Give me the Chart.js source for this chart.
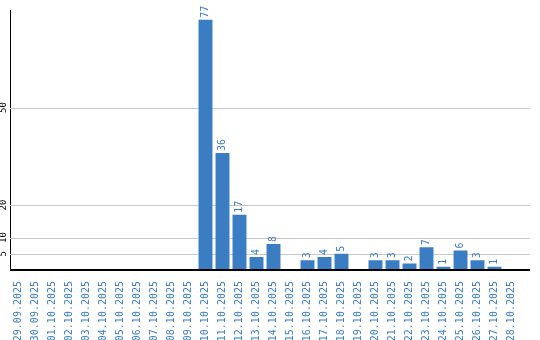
<!DOCTYPE html>
<html lang="de">
<head>
    <meta charset="UTF-8" />
    <title>Chart</title>
    <script src="https://cdn.jsdelivr.net/npm/chart.js"></script>
    <style>
        html, body { margin: 0; padding: 0; background: #fff; }
        #wrap { width: 540px; height: 340px; }
    </style>
</head>
<body>
    <div id="wrap"><canvas id="grafico"></canvas></div>

    <script>
        const fechas = [
            "29.09.2025", "30.09.2025", "01.10.2025", "02.10.2025", "03.10.2025",
            "04.10.2025", "05.10.2025", "06.10.2025", "07.10.2025", "08.10.2025",
            "09.10.2025", "10.10.2025", "11.10.2025", "12.10.2025", "13.10.2025",
            "14.10.2025", "15.10.2025", "16.10.2025", "17.10.2025", "18.10.2025",
            "19.10.2025", "20.10.2025", "21.10.2025", "22.10.2025", "23.10.2025",
            "24.10.2025", "25.10.2025", "26.10.2025", "27.10.2025", "28.10.2025"
        ];
        const valores = [
            0, 0, 0, 0, 0, 0, 0, 0, 0, 0,
            0, 77, 36, 17, 4, 8, 0, 3, 4, 5,
            0, 3, 3, 2, 7, 1, 6, 3, 1, 0
        ];
        const ticksY = [5, 10, 20, 50];

        const azul = '#3b7dc3';
        const fuente = '10px "DejaVu Sans Mono"';
        const finLineas = 530;

        // rejilla y eje inferior, un poco mas largos que el area de barras
        const rejilla = {
            id: 'rejilla',
            beforeDatasetsDraw(chart) {
                const ctx = chart.ctx;
                const y = chart.scales.y;
                const area = chart.chartArea;
                ctx.save();
                ctx.strokeStyle = '#c8c8c8';
                ctx.lineWidth = 1;
                ticksY.forEach(t => {
                    const py = Math.round(y.getPixelForValue(t)) + 0.5;
                    ctx.beginPath();
                    ctx.moveTo(area.left, py);
                    ctx.lineTo(finLineas, py);
                    ctx.stroke();
                });
                ctx.restore();
            },
            afterDatasetsDraw(chart) {
                const ctx = chart.ctx;
                const area = chart.chartArea;
                ctx.save();
                ctx.strokeStyle = '#000';
                ctx.lineWidth = 2;
                ctx.beginPath();
                ctx.moveTo(area.left, Math.round(area.bottom));
                ctx.lineTo(finLineas, Math.round(area.bottom));
                ctx.stroke();
                ctx.restore();
            }
        };

        // etiquetas de valor giradas encima de cada barra + etiquetas del eje y
        const etiquetas = {
            id: 'etiquetas',
            afterDatasetsDraw(chart) {
                const ctx = chart.ctx;
                const meta = chart.getDatasetMeta(0);
                ctx.save();
                ctx.font = fuente;
                ctx.fillStyle = azul;
                ctx.textAlign = 'left';
                ctx.textBaseline = 'middle';
                meta.data.forEach((bar, i) => {
                    if (!valores[i]) return;
                    ctx.save();
                    ctx.translate(bar.x, bar.y - 2);
                    ctx.rotate(-Math.PI / 2);
                    ctx.fillText(String(valores[i]), 0, 0);
                    ctx.restore();
                });
                const y = chart.scales.y;
                ctx.fillStyle = '#000';
                ctx.font = '9px "DejaVu Sans Mono"';
                ctx.textAlign = 'center';
                ticksY.forEach(t => {
                    ctx.save();
                    ctx.translate(4, y.getPixelForValue(t));
                    ctx.rotate(-Math.PI / 2);
                    ctx.fillText(String(t), 0, 0);
                    ctx.restore();
                });
                ctx.restore();
            }
        };

        new Chart(document.getElementById('grafico'), {
            type: 'bar',
            data: {
                labels: fechas,
                datasets: [{
                    data: valores,
                    backgroundColor: azul,
                    borderWidth: 0,
                    barPercentage: 0.82,
                    categoryPercentage: 1
                }]
            },
            options: {
                responsive: true,
                maintainAspectRatio: false,
                animation: false,
                layout: { padding: { top: 10, right: 20, left: 0, bottom: 0 } },
                plugins: {
                    legend: { display: false },
                    tooltip: { enabled: false }
                },
                scales: {
                    x: {
                        grid: { display: false },
                        border: { display: false },
                        ticks: {
                            color: azul,
                            font: { family: 'DejaVu Sans Mono', size: 10 },
                            minRotation: 90,
                            maxRotation: 90,
                            autoSkip: false,
                            padding: 3
                        },
                        afterFit(scale) { scale.height = 70; }
                    },
                    y: {
                        min: 0,
                        max: 80,
                        afterBuildTicks(scale) {
                            scale.ticks = ticksY.map(v => ({ value: v }));
                        },
                        grid: { display: false },
                        border: { color: '#000', width: 1 },
                        ticks: { display: false },
                        afterFit(scale) { scale.width = 10; }
                    }
                }
            },
            plugins: [rejilla, etiquetas]
        });
    </script>
</body>
</html>
